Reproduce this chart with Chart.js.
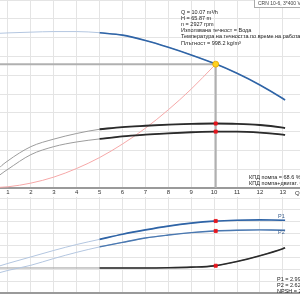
<!DOCTYPE html>
<html><head><meta charset="utf-8">
<script src="https://cdn.jsdelivr.net/npm/chart.js@4.4.1/dist/chart.umd.min.js"></script>
<style>
html,body{margin:0;padding:0;width:300px;height:300px;overflow:hidden;background:#fff;}
#top{position:absolute;left:0;top:0;width:300px;height:197px;}
#bot{position:absolute;left:0;top:197px;width:300px;height:103px;}
.t{position:absolute;font-family:"Liberation Sans",Arial,sans-serif;font-size:5.5px;color:#222;white-space:nowrap;line-height:1;}
.box{position:absolute;left:254px;top:-2px;width:60px;height:8px;border:1px solid #aaa;background:#fff;}
</style></head><body>
<div id="top"><canvas id="c1" width="300" height="197"></canvas></div>
<div id="bot"><canvas id="c2" width="300" height="103"></canvas></div>

<div class="box"></div>
<div class="t" style="left:258px;top:1px;font-size:5px;color:#444">CRN 10-6, 3*400 V</div>

<div class="t" style="left:181px;top:9.5px">Q = 10.07 m³/h</div>
<div class="t" style="left:181px;top:15.7px">H = 65.87 m</div>
<div class="t" style="left:181px;top:21.9px">n = 2927 rpm</div>
<div class="t" style="left:181px;top:28.1px">Използвана течност = Вода</div>
<div class="t" style="left:181px;top:34.3px">Температура на течността по време на работа = 20 °C</div>
<div class="t" style="left:181px;top:40.5px">Плътност = 998.2 kg/m³</div>

<div class="t" style="left:249px;top:174.5px">КПД помпа = 68.6 %</div>
<div class="t" style="left:249px;top:180.5px">КПД помпа+двигат. = 60.0 %</div>
<div class="t" style="left:295px;top:189.5px;font-size:6px;color:#333">Q [m³/h]</div>

<div class="t" style="left:278px;top:214px;color:#3a5f8f">P1</div>
<div class="t" style="left:278px;top:230px;color:#3a5f8f">P2</div>

<div class="t" style="left:277px;top:276.5px">P1 = 2.99 kW</div>
<div class="t" style="left:277px;top:282.5px">P2 = 2.62 kW</div>
<div class="t" style="left:277px;top:288.5px">NPSH = 2.19 m</div>

<script>
// ---- data ----
const flow     = [0, 0.65, 1, 2, 3, 4, 5, 6, 7, 8, 9, 10, 11, 12, 13, 13.1];
const head     = [82.0, 82.3, 82.5, 82.9, 83.2, 83.2, 82.6, 81.3, 78.5, 74.9, 70.8, 66.3, 61.0, 54.8, 47.6, 46.8];
const etaPump  = [0, 22, 29, 44, 52, 58, 62.5, 64.8, 66.2, 67.4, 68.2, 68.6, 68.3, 67.0, 64.2, 63.8];
const etaTotal = [0, 14, 20, 35.5, 44, 49, 52.2, 55, 56.8, 58.2, 59.3, 60, 60, 59, 56.8, 56.4];
const p1       = [1.20, 1.33, 1.42, 1.66, 1.90, 2.12, 2.31, 2.50, 2.66, 2.80, 2.91, 2.985, 3.02, 3.03, 3.02, 3.02];
const p2       = [0.95, 1.08, 1.16, 1.35, 1.60, 1.83, 2.03, 2.20, 2.36, 2.47, 2.56, 2.62, 2.65, 2.66, 2.65, 2.65];
const npsh     = [2.0, 2.0, 2.0, 2.0, 2.0, 2.0, 2.0, 2.0, 2.0, 2.02, 2.07, 2.18, 2.55, 3.05, 3.65, 3.73];
const sysFlow  = [0, 1, 2, 3, 4, 5, 6, 7, 8, 9, 10, 10.07];
const sysHead  = [0, 0.65, 2.6, 5.8, 10.4, 16.2, 23.4, 31.8, 41.6, 52.6, 65.0, 65.87];
const xTicks   = [1, 2, 3, 4, 5, 6, 7, 8, 9, 10, 11, 12, 13];
const headTicks = [0, 10, 20, 30, 40, 50, 60, 70, 80, 90, 100];
const lowerTicks = [0, 1, 2, 3, 4, 5, 6, 7, 8];
const rangeStart = 5;
const duty = {q: 10.07, h: 65.87, etaPump: 68.6, etaTotal: 60.0, p1: 2.99, p2: 2.62, npsh: 2.19};

// ---- helpers ----
const pts = (xs, ys) => xs.map((x, i) => ({x, y: ys[i]}));
const inRange = (xs, ys) => pts(xs, ys).filter(p => p.x >= rangeStart);
const FONT = '"Liberation Sans", Arial, sans-serif';
const GRID = '#e4e4e4';
const XMIN = 0.651, XMAX = 13.751;

function line(data, color, width, yAxisID, order, extra) {
  return Object.assign({data, borderColor: color, borderWidth: width, yAxisID, order, showLine: true,
    pointRadius: 0, fill: false, cubicInterpolationMode: 'monotone', tension: 0.4}, extra || {});
}
function marker(x, y, yAxisID, style, color, border, r) {
  return {data: [{x, y}], yAxisID, order: 0, showLine: false, pointStyle: style,
    pointRadius: r, pointBackgroundColor: color, pointBorderColor: border, pointBorderWidth: 0.8};
}
const xScale = (showTicks, height) => ({
  type: 'linear', min: XMIN, max: XMAX,
  afterBuildTicks: a => { a.ticks = xTicks.map(v => ({value: v})); },
  ticks: {display: showTicks, font: {size: 6, family: FONT}, color: '#333', padding: 1, maxRotation: 0, autoSkip: false},
  grid: {color: GRID, drawTicks: false},
  border: {display: true, color: '#9a9a9a', width: 2},
  afterFit: a => { a.height = height; }
});
const hidden = (min, max) => ({type: 'linear', display: false, min, max});

const common = {
  responsive: false, animation: false, events: [],
  layout: {padding: 0, autoPadding: false},
  plugins: {legend: {display: false}, tooltip: {enabled: false}}
};

// ---- top chart: head, efficiency, system curve ----
new Chart(document.getElementById('c1'), {
  type: 'scatter',
  data: {datasets: [
    marker(duty.q, duty.h, 'y', 'circle', '#ffd21f', '#e3a400', 3),
    marker(duty.q, duty.etaPump, 'eta', 'rect', '#e8141c', '#e8141c', 2.2),
    marker(duty.q, duty.etaTotal, 'eta', 'rect', '#e8141c', '#e8141c', 2.2),
    line(inRange(flow, head), '#2f64a6', 1.6, 'y', 1),
    line(pts(flow, head), '#b3c6e0', 1, 'y', 2),
    line(inRange(flow, etaPump), '#2b2b2b', 1.8, 'eta', 1),
    line(pts(flow, etaPump), '#9c9c9c', 1, 'eta', 2),
    line(inRange(flow, etaTotal), '#2b2b2b', 1.8, 'eta', 1),
    line(pts(flow, etaTotal), '#9c9c9c', 1, 'eta', 2),
    line(pts(sysFlow, sysHead), '#f6a8a8', 1, 'y', 3),
    line([{x: 0, y: duty.h}, {x: duty.q, y: duty.h}], '#b0b0b0', 2, 'y', 5, {tension: 0, cubicInterpolationMode: 'default'}),
    line([{x: duty.q, y: duty.h}, {x: duty.q, y: 0}], '#b0b0b0', 2, 'y', 5, {tension: 0, cubicInterpolationMode: 'default'})
  ]},
  options: Object.assign({}, common, {
    scales: {
      x: xScale(true, 9),
      y: {type: 'linear', min: 0, max: 100,
          afterBuildTicks: a => { a.ticks = headTicks.map(v => ({value: v})); },
          ticks: {display: false}, grid: {color: GRID, drawTicks: false},
          border: {display: false}, afterFit: a => { a.width = 0; }},
      eta: hidden(0, 200)
    }
  })
});

// ---- bottom chart: power and NPSH ----
new Chart(document.getElementById('c2'), {
  type: 'scatter',
  data: {datasets: [
    marker(duty.q, duty.p1, 'p', 'rect', '#e8141c', '#e8141c', 2.2),
    marker(duty.q, duty.p2, 'p', 'rect', '#e8141c', '#e8141c', 2.2),
    marker(duty.q, duty.npsh, 'n', 'rect', '#e8141c', '#e8141c', 2.2),
    line(inRange(flow, p1), '#2f64a6', 1.6, 'p', 1),
    line(pts(flow, p1), '#b3c6e0', 1, 'p', 2),
    line(inRange(flow, p2), '#4a78b0', 1.4, 'p', 1),
    line(pts(flow, p2), '#b3c6e0', 1, 'p', 2),
    line(inRange(flow, npsh), '#2b2b2b', 1.6, 'n', 1),
    line(pts(flow, npsh), '#9c9c9c', 1, 'n', 2)
  ]},
  options: Object.assign({}, common, {
    scales: {
      x: xScale(false, 7),
      g: {type: 'linear', min: 0, max: 8.085, position: 'left',
          afterBuildTicks: a => { a.ticks = lowerTicks.map(v => ({value: v})); },
          ticks: {display: false}, grid: {color: GRID, drawTicks: false},
          border: {display: false}, afterFit: a => { a.width = 0; }},
      p: hidden(0.323, 3.879),
      n: hidden(-0.14, 8.07)
    }
  })
});
</script>
</body></html>
